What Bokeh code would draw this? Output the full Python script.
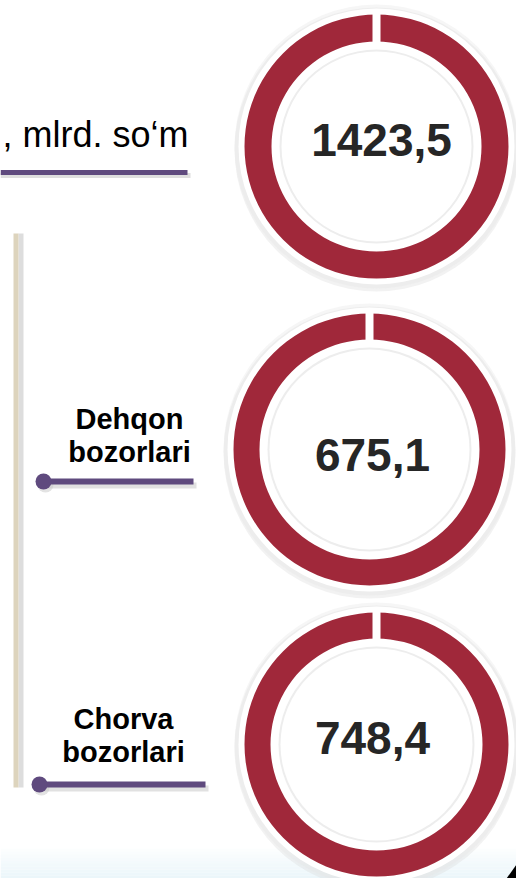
from bokeh.plotting import figure
from bokeh.models import Range1d, ColumnDataSource
from bokeh.embed import file_html
from bokeh.resources import INLINE
from bokeh.core.properties import value

# ---- data ----
values = [1423.5, 675.1, 748.4]
value_labels = ["1423,5", "675,1", "748,4"]
market_line1 = ["Dehqon", "Chorva"]
market_line2 = ["bozorlari", "bozorlari"]
unit_label = ", mlrd. so\u2018m"

W, H = 516, 878
p = figure(width=W, height=H, x_range=Range1d(0, W), y_range=Range1d(H, 0),
           x_axis_type=None, y_axis_type=None, toolbar_location=None,
           output_backend="svg", min_border=0, outline_line_color=None)
p.grid.visible = False
p.background_fill_color = "white"
p.border_fill_color = "white"

RED = "#a0283a"
PURPLE = "#5f4a7e"
TXT = "#262626"

# bottom light gradient
steps = 10
for i in range(steps):
    y0 = 848 + i * 3
    p.quad(left=0, right=W, top=y0, bottom=y0 + 3, fill_color="#e9f5fa",
           fill_alpha=0.12 + 0.09 * i, line_color=None)

# donut geometry
cx = [376, 369, 376]
cy = [146, 449, 744]
r_out = [132, 136, 132]
r_in = [105, 110, 106]

src = ColumnDataSource(dict(
    x=cx, y=cy, v=values, lab=value_labels,
    shadow=[r + 10 for r in r_out],
    white=[r + 6 for r in r_out],
    ro=r_out, ri=r_in,
    disc=[r - 8 for r in r_in],
    inner=[r - 10 for r in r_in],
    sy=[y + 3 for y in cy],
    tx=[381, 372, 372],
    ty=[157 - 18, 472 - 18, 755 - 18],
))

# soft outer shadow
p.circle(x="x", y="sy", radius="shadow", source=src, fill_color="#d9d9d9",
         fill_alpha=0.35, line_color=None)
p.circle(x="x", y="y", radius="shadow", source=src, fill_color="#e6e6e6",
         fill_alpha=0.35, line_color=None)
p.circle(x="x", y="y", radius="white", source=src, fill_color="white", line_color=None)
# ring (one full segment per value)
p.annular_wedge(x="x", y="y", inner_radius="ri", outer_radius="ro",
                start_angle=0, end_angle=6.2831, source=src,
                fill_color=RED, line_color=None)
# seam gap at top
p.segment(x0=cx, y0=[y - r - 3 for y, r in zip(cy, r_out)],
          x1=cx, y1=[y - r + 3 for y, r in zip(cy, r_in)],
          line_color="white", line_width=8)
# inner disc with soft edge
p.circle(x="x", y="y", radius="disc", source=src, fill_color="#ededed",
         line_color=None)
p.circle(x="x", y="y", radius="inner", source=src,
         fill_color="white", line_color=None)
p.text(x="tx", y="ty", text="lab", source=src,
       text_font=value("Liberation Sans"), text_font_style="bold",
       text_font_size="46px", text_color=TXT, text_align="center",
       text_baseline="alphabetic")

# vertical bar with shadow
p.quad(left=18, right=23, top=233, bottom=787, fill_color="#cfcfcf",
       fill_alpha=0.7, line_color=None)
p.quad(left=13, right=18, top=233, bottom=787, fill_color="#ddd4bd",
       line_color=None)

# top unit label and line
p.text(x=[188], y=[148 - 14], text=[unit_label], text_font=value("Liberation Sans"),
       text_font_size="36px", text_color="black", text_align="right",
       text_baseline="alphabetic")
p.segment(x0=[0], y0=[175], x1=[190], y1=[175], line_color="#c8c8c8",
          line_width=5, line_alpha=0.6)
p.segment(x0=[0], y0=[172], x1=[187], y1=[172], line_color=PURPLE, line_width=5)

# market labels with connector lines
lx = [129, 123]
ly = [430 - 12, 730 - 12]
dot_x = [43, 39]
dot_y = [481, 784]
end_x = [193, 205]
p.segment(x0=[d + 2 for d in dot_x], y0=[d + 4 for d in dot_y],
          x1=[e + 3 for e in end_x], y1=[d + 4 for d in dot_y],
          line_color="#c8c8c8", line_width=6, line_alpha=0.55)
p.circle(x=[d + 2 for d in dot_x], y=[d + 3 for d in dot_y], radius=8,
         fill_color="#c8c8c8", fill_alpha=0.5, line_color=None)
p.segment(x0=dot_x, y0=dot_y, x1=end_x, y1=dot_y, line_color=PURPLE, line_width=6)
p.circle(x=dot_x, y=dot_y, radius=8, fill_color=PURPLE, line_color=None)
p.text(x=lx, y=ly, text=market_line1, text_font=value("Liberation Sans"),
       text_font_style="bold", text_font_size="29px", text_color="black",
       text_align="center", text_baseline="alphabetic")
p.text(x=lx, y=[y + 33 for y in ly], text=market_line2,
       text_font=value("Liberation Sans"), text_font_style="bold",
       text_font_size="29px", text_color="black", text_align="center",
       text_baseline="alphabetic")

# small dark corner shape bottom right
p.patch(x=[506, 516, 516, 511], y=[878, 864, 878, 878], fill_color="black",
        line_color=None)

open("out.html", "w").write(file_html(p, INLINE))
